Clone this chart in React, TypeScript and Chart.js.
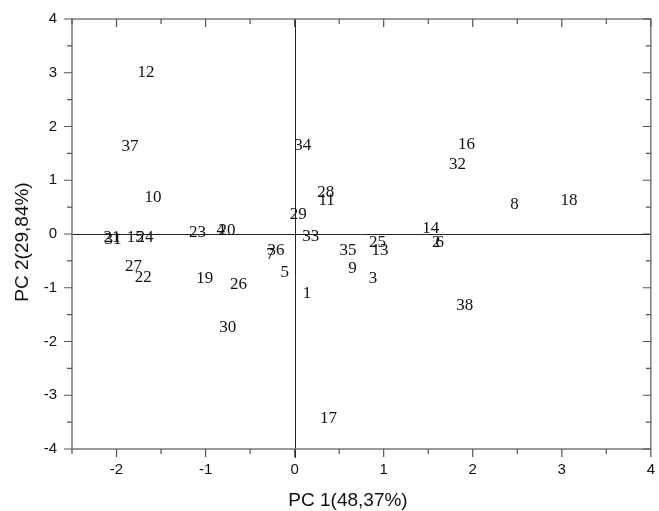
import React, { useEffect, useRef } from "react";
import { Chart, registerables } from "chart.js";

Chart.register(...registerables);

const sampleLabels = [
  "12", "37", "10", "16", "32", "34", "28", "11", "29", "8", "18", "14", "2", "6",
  "33", "35", "25", "13", "36", "7", "5", "1", "9", "3", "21", "31", "15", "24",
  "23", "4", "20", "27", "22", "19", "26", "30", "17", "38",
];
const pc1 = [
  -1.67, -1.85, -1.59, 1.93, 1.83, 0.09, 0.35, 0.36, 0.04, 2.47, 3.08, 1.53, 1.59, 1.63,
  0.18, 0.60, 0.93, 0.96, -0.21, -0.27, -0.11, 0.14, 0.65, 0.88, -2.05, -2.04, -1.79, -1.68,
  -1.09, -0.83, -0.76, -1.81, -1.70, -1.01, -0.63, -0.75, 0.38, 1.91,
];
const pc2 = [
  3.02, 1.65, 0.70, 1.69, 1.31, 1.67, 0.80, 0.65, 0.38, 0.57, 0.65, 0.13, -0.13, -0.13,
  -0.02, -0.28, -0.14, -0.28, -0.28, -0.35, -0.70, -1.09, -0.61, -0.81, -0.05, -0.08, -0.04, -0.04,
  0.06, 0.09, 0.09, -0.59, -0.78, -0.81, -0.91, -1.72, -3.41, -1.31,
];
const xTickValues = [-2, -1, 0, 1, 2, 3, 4];
const yTickValues = [-4, -3, -2, -1, 0, 1, 2, 3, 4];
const xMinor = [-2.5, -1.5, -0.5, 0.5, 1.5, 2.5, 3.5];
const yMinor = [-3.5, -2.5, -1.5, -0.5, 0.5, 1.5, 2.5, 3.5];
const xTitle = "PC 1(48,37%)";
const yTitle = "PC 2(29,84%)";

const overlay = {
  id: "overlay",
  afterDraw(chart: any) {
    const ctx = chart.ctx;
    const { left, right, top, bottom } = chart.chartArea;
    const xs = chart.scales.x;
    const ys = chart.scales.y;
    ctx.save();
    // zero lines
    ctx.strokeStyle = "#222";
    ctx.lineWidth = 1;
    const x0 = Math.round(xs.getPixelForValue(0)) + 0.5;
    const y0 = Math.round(ys.getPixelForValue(0)) + 0.5;
    ctx.beginPath();
    ctx.moveTo(x0, top);
    ctx.lineTo(x0, bottom + 9);
    ctx.moveTo(left, y0);
    ctx.lineTo(right, y0);
    ctx.stroke();

    // frame
    ctx.strokeStyle = "#7a7a7a";
    ctx.lineWidth = 1.5;
    ctx.strokeRect(left, top, right - left, bottom - top);

    // ticks
    ctx.lineWidth = 1.2;
    ctx.strokeStyle = "#555";
    ctx.beginPath();
    const tickX = (v: number, len: number) => {
      const p = xs.getPixelForValue(v);
      ctx.moveTo(p, bottom);
      ctx.lineTo(p, bottom + len);
      ctx.moveTo(p, top);
      ctx.lineTo(p, top + len);
    };
    const tickY = (v: number, len: number) => {
      const p = ys.getPixelForValue(v);
      ctx.moveTo(left, p);
      ctx.lineTo(left - len, p);
      ctx.moveTo(right, p);
      ctx.lineTo(right - len, p);
    };
    xTickValues.forEach((v) => tickX(v, 8));
    xMinor.forEach((v) => tickX(v, 5));
    yTickValues.forEach((v) => tickY(v, 8));
    yMinor.forEach((v) => tickY(v, 5));
    ctx.stroke();

    // data labels
    const fs = 17;
    ctx.font = `${fs}px "Liberation Serif", "Times New Roman", serif`;
    ctx.fillStyle = "#111";
    ctx.textAlign = "center";
    ctx.textBaseline = "alphabetic";
    const meta = chart.getDatasetMeta(0);
    meta.data.forEach((pt: any, i: number) => {
      ctx.fillText(sampleLabels[i], pt.x, pt.y + fs * 0.34);
    });

    // axis titles
    ctx.font = `19px "Liberation Sans", Arial, sans-serif`;
    ctx.fillStyle = "#111";
    ctx.textAlign = "center";
    ctx.fillText(xTitle, 348, 506);
    ctx.translate(28, 242);
    ctx.rotate(-Math.PI / 2);
    ctx.fillText(yTitle, 0, 0);
    ctx.restore();
  },
};

export default function App() {
  const ref = useRef<HTMLCanvasElement | null>(null);
  useEffect(() => {
    if (!ref.current) return;
    const chart = new Chart(ref.current, {
      type: "scatter",
      data: {
        datasets: [
          {
            data: pc1.map((x, i) => ({ x, y: pc2[i] })),
            pointRadius: 0,
            pointHoverRadius: 0,
          },
        ],
      },
      options: {
        responsive: false,
        animation: false,
        layout: { padding: { top: 19, right: 6, left: 0, bottom: 0 } },
        plugins: { legend: { display: false }, tooltip: { enabled: false } },
        events: [],
        scales: {
          x: {
            type: "linear",
            min: -2.5,
            max: 4,
            afterBuildTicks: (s: any) => {
              s.ticks = xTickValues.map((v) => ({ value: v }));
            },
            afterFit: (s: any) => {
              s.height = 62;
            },
            grid: { display: false, drawTicks: true, tickLength: 8 },
            border: { display: false },
            ticks: {
              padding: 4,
              color: "#111",
              maxRotation: 0,
              font: { family: '"Liberation Sans", Arial, sans-serif', size: 15 },
              callback: (v: any) => String(v),
            },
          },
          y: {
            type: "linear",
            min: -4,
            max: 4,
            afterBuildTicks: (s: any) => {
              s.ticks = yTickValues.map((v) => ({ value: v }));
            },
            afterFit: (s: any) => {
              s.width = 72;
            },
            grid: { display: false, drawTicks: true, tickLength: 8 },
            border: { display: false },
            ticks: {
              padding: 7,
              color: "#111",
              font: { family: '"Liberation Sans", Arial, sans-serif', size: 15 },
              callback: (v: any) => String(v),
            },
          },
        },
      },
      plugins: [overlay],
    });
    return () => chart.destroy();
  }, []);
  return (
    <div style={{ position: "absolute", left: 0, top: 0, width: 659, height: 511, background: "#fff" }}>
      <canvas ref={ref} width={659} height={511} style={{ width: 659, height: 511 }} />
    </div>
  );
}
